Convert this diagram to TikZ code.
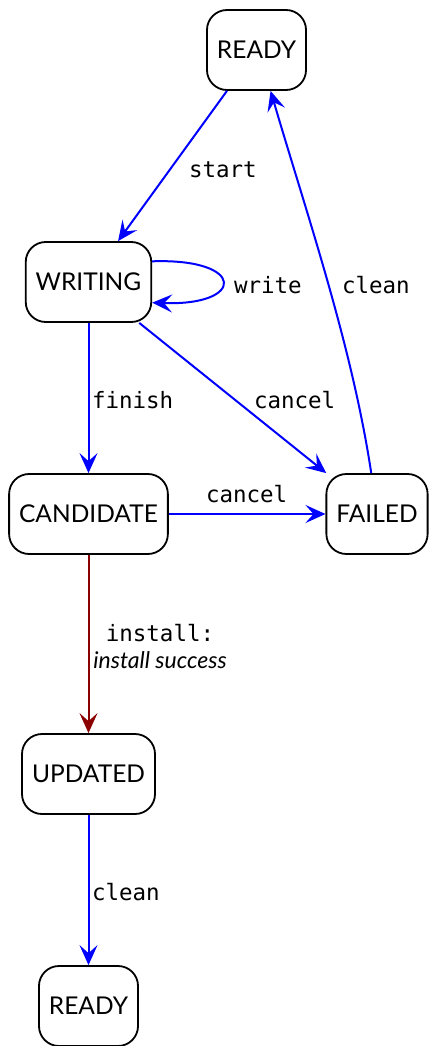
\documentclass[tikz,border=0pt]{standalone}
\usepackage{fontspec}
\setmainfont{Lato}
\setmonofont{DejaVu Sans Mono}
\usetikzlibrary{arrows.meta}

\definecolor{edgeblue}{RGB}{0,0,255}
\definecolor{edgered}{RGB}{139,0,0}

\tikzset{
  state/.style={draw=black, line width=1.8pt, rounded corners=20pt,
    minimum height=80pt, inner xsep=10pt, inner ysep=0pt,
    font=\fontsize{24.5}{28}\selectfont},
  trans/.style={draw=edgeblue, line width=2pt,
    -{Stealth[length=20pt, width=18pt, inset=8pt]}},
  okpath/.style={trans, draw=edgered},
  lbl/.style={inner sep=0pt, anchor=base west,
    font=\fontsize{22.5}{27}\ttfamily},
}

\begin{document}
\begin{tikzpicture}[x=1pt, y=-1pt]
  \useasboundingbox (0,0) rectangle (430,1046);

  % states
  \node[state] (ready)     at (256.5,50)  {READY};
  \node[state] (writing)   at (88.5,282)  {WRITING};
  \node[state] (candidate) at (88.5,514)  {CANDIDATE};
  \node[state] (failed)    at (377,514)   {FAILED};
  \node[state] (updated)   at (88.5,774)  {UPDATED};
  \node[state] (done)      at (88.5,1006) {READY};

  % transitions
  \draw[trans] (ready) -- (writing)
    node[lbl, at={(188,177)}] {start};
  \draw[trans] (writing.18) .. controls (246,258) and (246,306) .. (writing.-18)
    node[lbl, at={(233,293)}] {write};
  \draw[trans] (writing) -- (candidate)
    node[lbl, at={(91,408)}] {finish};
  \draw[trans] (writing) -- (failed)
    node[lbl, at={(253,408)}] {cancel};
  \draw[trans] (candidate) -- (failed)
    node[lbl, at={(205,502)}] {cancel};
  \draw[trans] (failed.98) .. controls (352,346) and (308,218) .. (ready.-71)
    node[lbl, at={(341,293)}] {clean};
  % the base anchor of this two-line label sits on its last line
  \draw[okpath] (candidate) -- (updated)
    node[align=center, inner sep=0pt, anchor=base, at={(160,668)},
         font=\fontsize{23}{27}\selectfont]
      {{\fontsize{22.5}{27}\ttfamily install:}\\
       {\itshape install success}};
  \draw[trans] (updated) -- (done)
    node[lbl, at={(91,900)}] {clean};
\end{tikzpicture}
\end{document}
